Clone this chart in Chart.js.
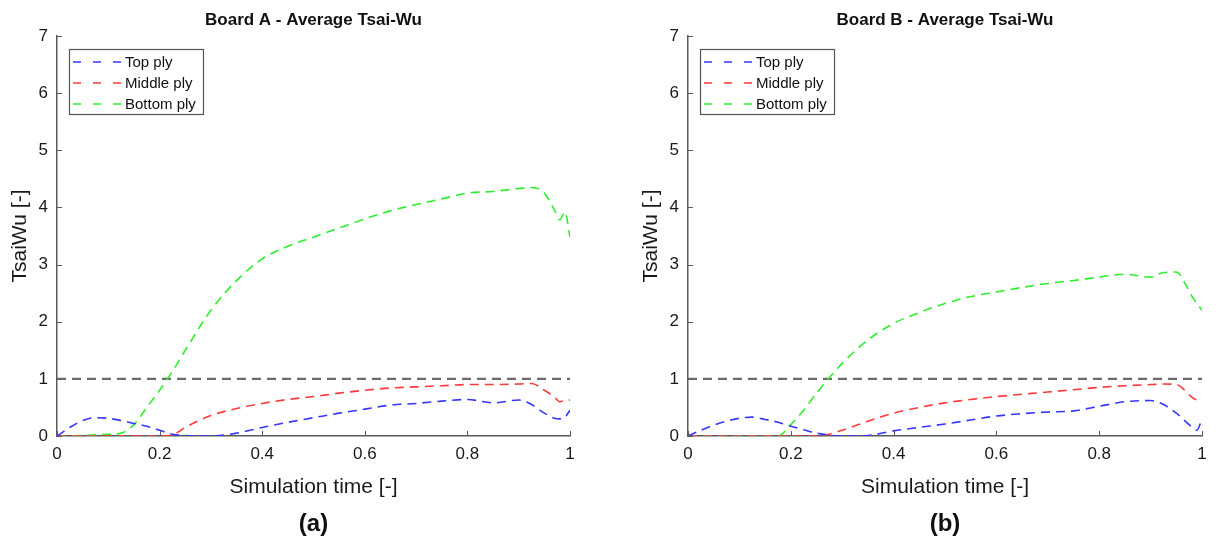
<!DOCTYPE html>
<html>
<head>
<meta charset="utf-8">
<script src="https://cdn.jsdelivr.net/npm/chart.js@4/dist/chart.umd.min.js"></script>
<style>
  body { margin: 0; background: #fff; }
  canvas { position: absolute; top: 0; }
  #boardA { left: 0; }
  #boardB { left: 608px; }
</style>
</head>
<body>
<canvas id="boardA" width="608" height="540"></canvas>
<canvas id="boardB" width="608" height="540"></canvas>
<script>
// ---------- data

const simTime = [0, 0.025, 0.05, 0.075, 0.1, 0.125, 0.15, 0.175, 0.2, 0.225, 0.25, 0.3, 0.35, 0.4, 0.45,
  0.5, 0.55, 0.6, 0.65, 0.7, 0.75, 0.8, 0.85, 0.9, 0.925, 0.95, 0.97, 0.98, 0.99, 1.0]

const topA = [0, 0.15, 0.27, 0.32, 0.31, 0.27, 0.22, 0.17, 0.1, 0.03, 0.01, 0, 0.05, 0.15, 0.24,
  0.32, 0.4, 0.47, 0.54, 0.57, 0.61, 0.64, 0.58, 0.63, 0.55, 0.4, 0.31, 0.3, 0.33, 0.45]
const middleA = [0, 0, 0, 0, 0, 0, 0, 0, 0, 0.02, 0.15, 0.36, 0.48, 0.57, 0.64,
  0.69, 0.75, 0.8, 0.84, 0.86, 0.88, 0.9, 0.9, 0.91, 0.92, 0.8, 0.68, 0.6, 0.62, 0.63]
const bottomA = [0, 0, 0.01, 0.02, 0.03, 0.05, 0.2, 0.5, 0.8, 1.13, 1.5, 2.2, 2.72, 3.1, 3.32,
  3.48, 3.64, 3.8, 3.94, 4.05, 4.15, 4.25, 4.28, 4.33, 4.35, 4.25, 3.95, 3.78, 3.92, 3.48]

const topB = [0, 0.1, 0.19, 0.26, 0.31, 0.33, 0.29, 0.24, 0.17, 0.11, 0.05, 0, 0.01, 0.09, 0.15,
  0.21, 0.28, 0.35, 0.39, 0.42, 0.44, 0.52, 0.6, 0.62, 0.55, 0.4, 0.24, 0.16, 0.1, 0.3]
const middleB = [0, 0, 0, 0, 0, 0, 0, 0, 0, 0, 0, 0.1, 0.26, 0.4, 0.5,
  0.58, 0.64, 0.69, 0.73, 0.77, 0.81, 0.85, 0.88, 0.9, 0.91, 0.9, 0.77, 0.68, 0.63, 0.62]
const bottomB = [0, 0, 0, 0, 0, 0, 0, 0, 0.2, 0.45, 0.75, 1.27, 1.68, 1.97, 2.16,
  2.32, 2.44, 2.52, 2.6, 2.67, 2.72, 2.78, 2.83, 2.78, 2.86, 2.87, 2.62, 2.45, 2.32, 2.2]

const limitTime = [0, 1]
const limitValue = [1, 1]

const seriesNames = ["Top ply", "Middle ply", "Bottom ply"]
const seriesColors = ["#3636ff", "#ff3a3a", "#2cf02c"]

const xTickValues = [0, 0.2, 0.4, 0.6, 0.8, 1]
const xTickLabels = ["0", "0.2", "0.4", "0.6", "0.8", "1"]
const yTickValues = [0, 1, 2, 3, 4, 5, 6, 7]
const yTickLabels = ["0", "1", "2", "3", "4", "5", "6", "7"]

Chart.defaults.font.family = "'Liberation Sans', Arial, sans-serif"
Chart.defaults.color = "#1a1a1a"

const AXIS_COLOR = "#5a5a5a"

// matlab-ish inward ticks + boxed legend inside the axes
const matlabAxes = {
  id: "matlabAxes",
  afterDraw(chart) {
    const { ctx, chartArea: a, scales: { x, y } } = chart
    ctx.save()
    ctx.strokeStyle = AXIS_COLOR
    ctx.lineWidth = 1
    xTickValues.forEach(v => {
      const px = Math.round(x.getPixelForValue(v)) + 0.5
      ctx.beginPath(); ctx.moveTo(px, a.bottom); ctx.lineTo(px, a.bottom - 5); ctx.stroke()
    })
    yTickValues.forEach(v => {
      const py = Math.round(y.getPixelForValue(v)) + 0.5
      ctx.beginPath(); ctx.moveTo(a.left, py); ctx.lineTo(a.left + 5, py); ctx.stroke()
    })

    // legend
    const bx = a.left + 12, by = a.top + 13, bw = 134, bh = 65
    ctx.fillStyle = "#fff"
    ctx.fillRect(bx, by, bw, bh)
    ctx.strokeStyle = "#555"
    ctx.lineWidth = 1.2
    ctx.strokeRect(bx + 0.5, by + 0.5, bw, bh)
    ctx.font = "15px 'Liberation Sans', Arial, sans-serif"
    ctx.textBaseline = "middle"
    seriesNames.forEach((name, i) => {
      const ly = by + 13 + i * 21
      ctx.strokeStyle = seriesColors[i]
      ctx.lineWidth = 1.5
      ctx.setLineDash([8, 12])
      ctx.beginPath(); ctx.moveTo(bx + 4, ly); ctx.lineTo(bx + 52, ly); ctx.stroke()
      ctx.setLineDash([])
      ctx.fillStyle = "#111"
      ctx.fillText(name, bx + 56, ly + 1)
    })
    ctx.restore()
  }
}

function points(xs, ys) {
  return xs.map((t, i) => ({ x: t, y: ys[i] }))
}

function makeChart(id, title, tag, series, padLeft, padRight) {

  const datasets = series.map((s, i) => ({
    label: seriesNames[i],
    data: points(simTime, s),
    borderColor: seriesColors[i],
    borderWidth: 1.6,
    borderDash: [9, 6],
    pointRadius: 0,
    cubicInterpolationMode: "monotone"
  }))

  datasets.push({
    label: "limit",
    data: points(limitTime, limitValue),
    borderColor: "#6b6b6b",
    borderWidth: 2.4,
    borderDash: [9, 6],
    pointRadius: 0
  })

  return new Chart(document.getElementById(id), {
    type: "line",
    data: { datasets },
    plugins: [matlabAxes],
    options: {
      responsive: false,
      animation: false,
      devicePixelRatio: 1,
      layout: { padding: { left: padLeft, right: padRight, top: 0, bottom: 0 } },
      plugins: {
        legend: { display: false },
        tooltip: { enabled: false },
        title: {
          display: true,
          text: title,
          fullSize: false,
          color: "#111",
          font: { size: 17, weight: "bold" },
          padding: { top: 10, bottom: 5.6 }
        },
        subtitle: {
          display: true,
          text: tag,
          position: "bottom",
          fullSize: false,
          color: "#111",
          font: { size: 24, weight: "bold" },
          padding: { top: 0, bottom: 1 }
        }
      },
      scales: {
        x: {
          type: "linear",
          min: 0,
          max: 1,
          afterBuildTicks: s => { s.ticks = xTickValues.map(v => ({ value: v })) },
          afterFit: s => { s.height = 74.2 },
          grid: { display: false, drawTicks: false },
          border: { display: true, color: AXIS_COLOR, width: 1.5 },
          ticks: {
            padding: 8,
            font: { size: 17 },
            maxRotation: 0,
            callback: (v, i) => xTickLabels[i]
          },
          title: {
            display: true,
            text: "Simulation time [-]",
            font: { size: 21 },
            padding: { top: 0, bottom: 10.6 }
          }
        },
        y: {
          min: 0,
          max: 7,
          afterBuildTicks: s => { s.ticks = yTickValues.map(v => ({ value: v })) },
          afterFit: s => { s.width = 57 },
          grid: { display: false, drawTicks: false },
          border: { display: true, color: AXIS_COLOR, width: 1.5 },
          ticks: {
            padding: 9,
            font: { size: 17 },
            callback: (v, i) => yTickLabels[i]
          },
          title: {
            display: true,
            text: "TsaiWu [-]",
            font: { size: 21 },
            padding: { top: 8, bottom: 0 }
          }
        }
      }
    }
  })
}

makeChart("boardA", "Board A - Average Tsai-Wu", "(a)", [topA, middleA, bottomA], 0, 38)
makeChart("boardB", "Board B - Average Tsai-Wu", "(b)", [topB, middleB, bottomB], 23, 14)
</script>
</body>
</html>
